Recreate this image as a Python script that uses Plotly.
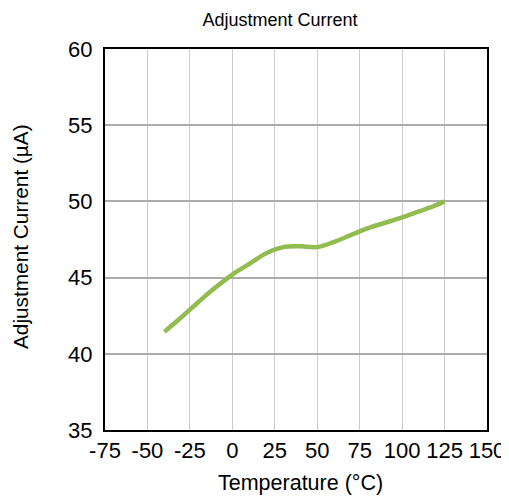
import plotly.graph_objects as go

temps = [-40, -30, -20, -10, 0, 10, 20, 30, 40, 50, 60, 70, 80, 90, 100, 110, 120, 125]
current = [41.45, 42.4, 43.4, 44.35, 45.2, 45.9, 46.6, 47.0, 47.05, 47.0, 47.35, 47.8, 48.25, 48.6, 48.95, 49.35, 49.75, 50.0]

x_ticks = [-75, -50, -25, 0, 25, 50, 75, 100, 125, 150]
y_ticks = [35, 40, 45, 50, 55, 60]

W, H = 501, 491

fig = go.Figure()
fig.add_trace(go.Scatter(x=temps, y=current, mode="lines",
                         line=dict(color="#92bb50", width=4.5, shape="spline"),
                         showlegend=False))

font = "Liberation Sans, Arial, sans-serif"
fig.update_layout(
    width=W, height=H,
    margin=dict(l=97, r=22, t=41, b=69),
    paper_bgcolor="white", plot_bgcolor="white",
    font=dict(family=font, color="black"),
    title=dict(text="Adjustment Current", x=272 / W, xanchor="center", xref="container",
               y=1 - 12 / H, yanchor="middle", font=dict(size=18, family=font)),
    xaxis=dict(range=[-75, 150], tickvals=x_ticks, ticktext=[str(v) for v in x_ticks],
               showgrid=True, gridcolor="#cccccc", gridwidth=1,
               showline=True, linecolor="black", linewidth=2, mirror=True,
               ticks="", tickfont=dict(size=22), zeroline=False, automargin=False),
    yaxis=dict(range=[35, 60], tickvals=y_ticks, ticktext=[str(v) for v in y_ticks],
               showgrid=True, gridcolor="#ababab", gridwidth=1.5,
               showline=True, linecolor="black", linewidth=2, mirror=True,
               ticks="", tickfont=dict(size=22), zeroline=False, ticklabelstandoff=6,
               automargin=False),
    annotations=[
        dict(text="Temperature (°C)", xref="paper", yref="paper",
             x=(292 - 97) / (W - 97 - 22), y=-(475 - 422) / (491 - 41 - 69),
             xanchor="center", yanchor="middle", showarrow=False,
             font=dict(size=21.5)),
        dict(text="Adjustment Current (µA)", xref="paper", yref="paper",
             x=-(97 - 12) / (W - 97 - 22), y=(422 - 229) / (491 - 41 - 69),
             xanchor="center", yanchor="middle", showarrow=False, textangle=-90,
             font=dict(size=20.8)),
    ],
)

fig.write_html("out.html")
